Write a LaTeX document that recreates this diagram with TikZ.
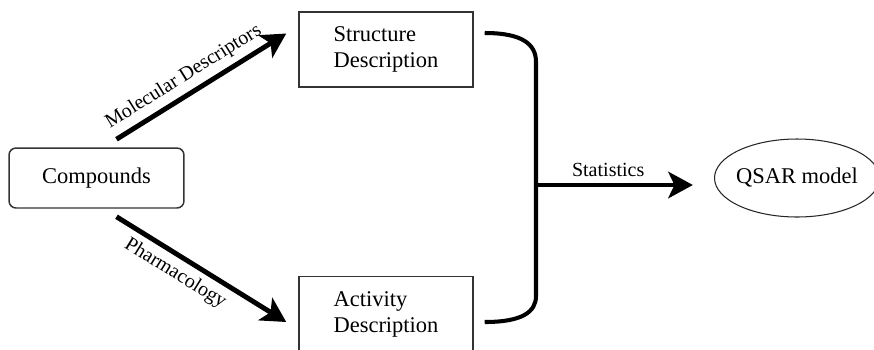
\documentclass[tikz,border=0pt]{standalone}
\usepackage{fontspec}
\setmainfont{Liberation Serif}
\usetikzlibrary{arrows.meta,shapes.geometric}

\begin{document}
\begin{tikzpicture}[x=0.02cm, y=-0.02cm,
    box/.style={draw=black!80, line width=0.85pt, minimum width=3.48cm,
      minimum height=1.5cm, align=left, font=\fontsize{12.8}{14.8}\selectfont},
    fatarrow/.style={line width=2.8pt, -{Stealth[length=14pt,width=15pt,inset=3.5pt]}},
    lbl/.style={font=\fontsize{11.4}{13}\selectfont}]
  \useasboundingbox (0,0) rectangle (874,349);
  \node[box, rounded corners=4pt, minimum width=3.5cm, minimum height=1.2cm] (cmp) at (96.5,178) {Compounds};
  \node[box] (sd) at (386,49.5) {Structure\\Description};
  \node[box] (ad) at (386,314) {Activity\\Description};
  \node[ellipse, draw=black!85, line width=0.6pt, inner xsep=-1.5pt, inner ysep=2pt,
    minimum width=3.3cm, minimum height=1.56cm,
    font=\fontsize{12.8}{14.8}\selectfont] (qsar) at (797,178) {QSAR model};
  \coordinate (bt) at ([shift={(11,-16.5)}]sd.east);
  \coordinate (bb) at ([shift={(11,8)}]ad.east);
  \coordinate (jn) at (536,185);
  \draw[fatarrow] ([shift={(20,-8)}]cmp.north) -- node[lbl, above, sloped, pos=0.45] {Molecular Descriptors} ([shift={(-12,-16)}]sd.west);
  \draw[fatarrow] ([shift={(20,8)}]cmp.south) -- node[lbl, below, sloped, pos=0.4] {Pharmacology} ([shift={(-12,8)}]ad.west);
  % bracket joining the two descriptions
  \draw[line width=2.3pt] (bt) .. controls (522,33) and (536,44) .. (536,62) -- (536,296)
    .. controls (536,312) and (522,322) .. (bb);
  \draw[fatarrow] (jn) -- node[lbl, above, pos=0.46] {Statistics} ([xshift=-12]qsar.west |- jn);
\end{tikzpicture}
\end{document}
